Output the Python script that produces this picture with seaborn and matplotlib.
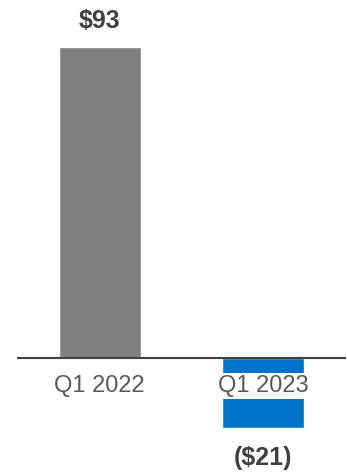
import matplotlib
matplotlib.use("Agg")
import matplotlib.pyplot as plt
import seaborn as sns
import pandas as pd

quarters = ["Q1 2022", "Q1 2023"]
values = [93, -21]
value_labels = ["$93", "($21)"]
bar_colors = ["#808080", "#0074C8"]

sns.set_style("white")
plt.rcParams["font.family"] = ["Liberation Sans", "DejaVu Sans"]

df = pd.DataFrame({"quarter": quarters, "value": values})

fig = plt.figure(figsize=(3.47, 4.76), dpi=100)
ax = fig.add_axes([18 / 347, 0, 327 / 347, 1])

sns.barplot(data=df, x="quarter", y="value", hue="quarter", palette=bar_colors,
            width=0.5, saturation=1, legend=False, ax=ax)

ax.set_xlim(-0.5, 1.5)
ax.set_ylim(-35.3, 107.1)

# baseline at zero carries the category labels
for side in ["top", "right", "left"]:
    ax.spines[side].set_visible(False)
ax.spines["bottom"].set_position(("data", 0))
ax.spines["bottom"].set_color("#404040")
ax.spines["bottom"].set_linewidth(1.5)
ax.set_axisbelow(False)
ax.set_yticks([])
ax.set_xlabel("")
ax.set_ylabel("")
ax.tick_params(axis="x", length=0, pad=12, labelsize=17, labelcolor="#595959")
for lbl in ax.get_xticklabels():
    lbl.set_bbox(dict(facecolor="white", edgecolor="none", pad=1.5))

for i, (v, txt) in enumerate(zip(values, value_labels)):
    if v >= 0:
        ax.annotate(txt, (i, v), xytext=(0, 10), textcoords="offset points",
                    ha="center", va="bottom", fontsize=18, fontweight="bold",
                    color="#404040")
    else:
        ax.annotate(txt, (i, v), xytext=(0, -13), textcoords="offset points",
                    ha="center", va="top", fontsize=18, fontweight="bold",
                    color="#404040")

fig.savefig("out.png", dpi=100)
